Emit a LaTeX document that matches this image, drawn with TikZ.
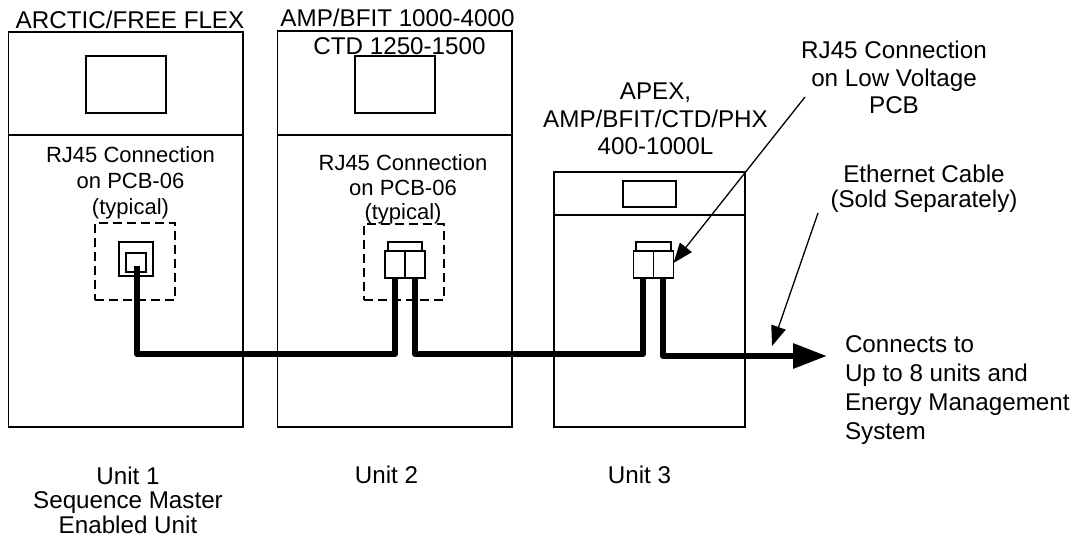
\documentclass[tikz,border=0pt]{standalone}
\usepackage{fontspec}
\setmainfont{Liberation Sans}
\usetikzlibrary{arrows.meta}
\tikzset{
  panel/.style={draw=black,line width=1.3pt,anchor=north west,inner sep=0pt,outer sep=0pt,rectangle},
  jackpart/.style={draw=black,line width=1.6pt,anchor=north west,inner sep=0pt,outer sep=0pt,rectangle},
  dashbox/.style={draw=black,line width=1.2pt,dash pattern=on 9pt off 5pt,anchor=north west,inner sep=0pt,outer sep=0pt,rectangle},
  lbl/.style={anchor=base,inner sep=0pt,outer sep=0pt,font=\fontsize{24.2}{29}\selectfont},
  lblsmall/.style={lbl,font=\fontsize{22}{27}\selectfont},
  lblleft/.style={lbl,anchor=base west},
  cable/.style={line width=6pt,line join=round,black},
  cablearrow/.style={cable,-{Triangle[length=34pt,width=24pt]}},
  leader/.style={line width=1.3pt,black,-{Triangle[length=20pt,width=15pt]}}
}
\begin{document}
\begin{tikzpicture}[x=1pt,y=-1pt]
\useasboundingbox (0,0) rectangle (1073,538);
% Unit 1
\node[panel,minimum width=234.5pt,minimum height=103pt] (atop) at (8.5,32) {};
\node[panel,minimum width=234.5pt,minimum height=292pt] (abody) at (8.5,135) {};
\node[panel,minimum width=80pt,minimum height=57pt] (ascreen) at (86,56) {};
% Unit 2
\node[panel,minimum width=234.5pt,minimum height=104pt] (btop) at (277.5,31) {};
\node[panel,minimum width=234.5pt,minimum height=292pt] (bbody) at (277.5,135) {};
\node[panel,minimum width=80pt,minimum height=57pt] (bscreen) at (355,56) {};
% Unit 3
\node[panel,minimum width=191pt,minimum height=43pt] (ctop) at (554,172) {};
\node[panel,minimum width=191pt,minimum height=212pt] (cbody) at (554,215) {};
\node[panel,minimum width=53pt,minimum height=26pt] (cscreen) at (623,181) {};
% dashed outlines
\node[dashbox,minimum width=80pt,minimum height=77pt] (adash) at (95,223) {};
\node[dashbox,minimum width=80pt,minimum height=76pt] (bdash) at (364,224) {};
% jack unit 1
\node[jackpart,minimum width=34pt,minimum height=34pt] (ajack) at (119,242) {};
\node[jackpart,minimum width=20pt,minimum height=19pt] (ainner) at (126,253) {};
% plugs unit 2
\node[jackpart,minimum width=34pt,minimum height=9pt] (bcap) at (388,242) {};
\node[jackpart,minimum width=20pt,minimum height=27pt] (bl) at (385,251) {};
\node[jackpart,minimum width=20pt,minimum height=27pt] (br) at (405,251) {};
% plugs unit 3
\node[jackpart,minimum width=35pt,minimum height=9pt] (ccap) at (636,242) {};
\node[jackpart,minimum width=20pt,minimum height=27pt] (cl) at (633.5,251) {};
\node[jackpart,minimum width=20pt,minimum height=27pt] (cr) at (653.5,251) {};
% cable coordinates
\coordinate (astart) at (137,266);
\coordinate (atob1) at (137,354);
\coordinate (atob2) at (395,354);
\coordinate (btoc1) at (415,354);
\coordinate (btoc2) at (643,354);
\coordinate (cout1) at (663,356);
\coordinate (coutend) at (827,356);
% cables
\draw[cable] (astart) -- (atob1) -- (atob2) -- (bl.south -| atob2);
\draw[cable] (br.south -| btoc1) -- (btoc1) -- (btoc2) -- (cl.south -| btoc2);
\draw[cablearrow] (cr.south -| cout1) -- (cout1) -- (coutend);
% leaders
\coordinate (l1s) at (805,97);
\coordinate (l2s) at (818,213);
\coordinate (l2e) at (772,346);
\draw[leader] (l1s) -- (cr.east |- 0,263);
\draw[leader] (l2s) -- (l2e);
% labels
\node[lbl] (t1) at (130,28) {ARCTIC/FREE FLEX};
\node[lbl] (t2) at (397.5,26) {AMP/BFIT 1000-4000};
\node[lbl] (t3) at (399.5,54) {CTD 1250-1500};
\node[lblsmall] (t4) at (130.5,162) {RJ45 Connection};
\node[lblsmall] (t5) at (130.5,188) {on PCB-06};
\node[lblsmall] (t6) at (130.5,214) {(typical)};
\node[lblsmall] (t7) at (403,170) {RJ45 Connection};
\node[lblsmall] (t8) at (403,195) {on PCB-06};
\node[lblsmall] (t9) at (403,219) {(typical)};
\node[lbl] (t10) at (655.5,99) {APEX,};
\node[lbl] (t11) at (655.5,127) {AMP/BFIT/CTD/PHX};
\node[lbl] (t12) at (655.5,154) {400-1000L};
\node[lbl] (t13) at (894,58) {RJ45 Connection};
\node[lbl] (t14) at (894,86) {on Low Voltage};
\node[lbl] (t15) at (894,113) {PCB};
\node[lbl] (t16) at (924,182) {Ethernet Cable};
\node[lbl] (t17) at (924,207) {(Sold Separately)};
\node[lblleft] (t18) at (845,352) {Connects to};
\node[lblleft] (t19) at (845,381) {Up to 8 units and};
\node[lblleft] (t20) at (845,410) {Energy Management};
\node[lblleft] (t21) at (845,439) {System};
\node[lbl] (t22) at (128,484) {Unit 1};
\node[lbl] (t23) at (128,508) {Sequence Master};
\node[lbl] (t24) at (128,533) {Enabled Unit};
\node[lbl] (t25) at (386.5,483) {Unit 2};
\node[lbl] (t26) at (639.5,483) {Unit 3};
\end{tikzpicture}
\end{document}
